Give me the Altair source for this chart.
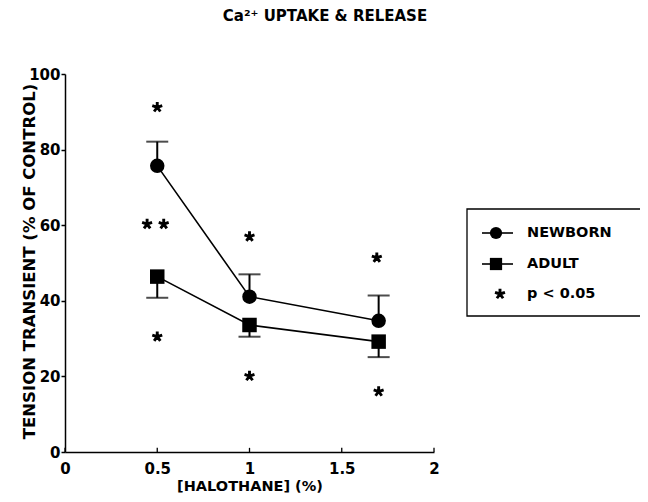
import altair as alt
import pandas as pd

# ---- data ----
halothane = [0.5, 1.0, 1.7]
newborn = [75.7, 41.1, 34.7]
newborn_upper = [82.1, 47.0, 41.4]
adult = [46.4, 33.6, 29.2]
adult_lower = [40.8, 30.5, 25.1]

ast_x = [0.5, 0.445, 0.535, 0.5, 1.0, 1.0, 1.69, 1.70]
ast_y = [91.2, 60.3, 60.3, 30.5, 57.0, 20.1, 51.4, 16.0]

x_ticks = [0, 0.5, 1, 1.5, 2]
y_ticks = [0, 20, 40, 60, 80, 100]

series_names = ["NEWBORN", "ADULT"]
legend_labels = ["NEWBORN", "ADULT", "p < 0.05"]
title_text = "Ca²⁺ UPTAKE & RELEASE"

# ---- tables ----
pts = pd.DataFrame(
    {
        "series": [series_names[0]] * 3 + [series_names[1]] * 3,
        "x": halothane + halothane,
        "y": newborn + adult,
        "err": newborn_upper + adult_lower,
    }
)
ast = pd.DataFrame({"x": ast_x, "y": ast_y})
ticks_df = pd.DataFrame({"x": x_ticks, "y0": [0] * len(x_ticks), "y1": [1.1] * len(x_ticks)})
one = pd.DataFrame({"a": [0]})

FONT = "DejaVu Sans"
ASTERISK = "M0,0L0,-1M0,0L0.95,-0.31M0,0L0.59,0.81M0,0L-0.59,0.81M0,0L-0.95,-0.31"

xs = alt.Scale(domain=[0, 2], nice=False, zero=False)
ys = alt.Scale(domain=[0, 100], nice=False)

X = alt.X(
    "x:Q",
    scale=xs,
    axis=alt.Axis(
        values=x_ticks,
        format="~g",
        title="[HALOTHANE] (%)",
        tickSize=0,
        labelPadding=9,
        labelFlush=False,
        labelFont=FONT,
        labelFontSize=15,
        labelFontWeight="bold",
        labelColor="black",
        titleFont=FONT,
        titleFontSize=14.5,
        titleFontWeight="bold",
        titleColor="black",
        titlePadding=3,
        domainColor="black",
        domainWidth=1.5,
        grid=False,
    ),
)
Y = alt.Y(
    "y:Q",
    scale=ys,
    axis=alt.Axis(
        values=y_ticks,
        title="TENSION TRANSIENT (% OF CONTROL)",
        tickSize=4,
        tickWidth=1.5,
        tickColor="black",
        labelPadding=1,
        labelFont=FONT,
        labelFontSize=15,
        labelFontWeight="bold",
        labelColor="black",
        titleFont=FONT,
        titleFontSize=16.5,
        titleFontWeight="bold",
        titleColor="black",
        titleX=-36,
        titleY=187,
        titleAngle=-90,
        titleAlign="center",
        titleBaseline="middle",
        domainColor="black",
        domainWidth=1.5,
        grid=False,
    ),
)

lines = alt.Chart(pts).mark_line(color="black", strokeWidth=1.6).encode(
    x=X, y=Y, detail="series:N"
)

bars = alt.Chart(pts).mark_rule(color="black", strokeWidth=2).encode(
    x=alt.X("x:Q", scale=xs), y=alt.Y("y:Q", scale=ys), y2="err:Q"
)

caps = alt.Chart(pts).mark_tick(
    color="black", orient="horizontal", size=22, thickness=2
).encode(x=alt.X("x:Q", scale=xs), y=alt.Y("err:Q", scale=ys))

points = alt.Chart(pts).mark_point(filled=True, color="black", opacity=1, size=210).encode(
    x=alt.X("x:Q", scale=xs),
    y=alt.Y("y:Q", scale=ys),
    shape=alt.Shape(
        "series:N",
        scale=alt.Scale(domain=series_names, range=["circle", "square"]),
        legend=None,
    ),
)

stars = alt.Chart(ast).mark_point(
    shape=ASTERISK, size=110, filled=False, color="black", strokeWidth=2.9, opacity=1
).encode(x=alt.X("x:Q", scale=xs), y=alt.Y("y:Q", scale=ys))

xticks = alt.Chart(ticks_df).mark_rule(color="black", strokeWidth=1.3).encode(
    x=alt.X("x:Q", scale=xs), y=alt.Y("y0:Q", scale=ys), y2="y1:Q"
)

# ---- title ----
title = alt.Chart(one).mark_text(
    font=FONT, fontSize=15, fontWeight="bold", color="black", align="center", baseline="alphabetic"
).encode(x=alt.value(260), y=alt.value(-53), text=alt.value(title_text))

# ---- legend box ----
box = alt.Chart(one).mark_rect(fillOpacity=0, stroke="black", strokeWidth=1.3).encode(
    x=alt.value(402), x2=alt.value(578), y=alt.value(135), y2=alt.value(242)
)

legend_rows = [159, 190, 220]
legend_layers = [box]
for i, (lab, yy) in enumerate(zip(legend_labels, legend_rows)):
    if i < 2:
        legend_layers.append(
            alt.Chart(one).mark_rule(color="black", strokeWidth=1.6).encode(
                x=alt.value(417), x2=alt.value(448), y=alt.value(yy)
            )
        )
        legend_layers.append(
            alt.Chart(one).mark_point(
                filled=True, color="black", opacity=1, size=150,
                shape=["circle", "square"][i],
            ).encode(x=alt.value(431), y=alt.value(yy))
        )
    else:
        legend_layers.append(
            alt.Chart(one).mark_point(
                shape=ASTERISK, size=110, filled=False, color="black", strokeWidth=2.9, opacity=1
            ).encode(x=alt.value(435), y=alt.value(yy))
        )
    legend_layers.append(
        alt.Chart(one).mark_text(
            font=FONT, fontSize=14.5, fontWeight="bold", color="black", align="left", baseline="middle"
        ).encode(x=alt.value(462), y=alt.value(yy), text=alt.value(lab))
    )

chart = (
    alt.layer(lines, bars, caps, points, stars, xticks, title, *legend_layers)
    .properties(
        width=369,
        height=378,
        autosize=alt.AutoSizeParams(type="none"),
        padding={"left": 57, "top": 66, "right": 206, "bottom": 42},
        background="white",
    )
    .configure_view(stroke=None)
)

chart.save("out.html", embed_options={"renderer": "svg", "actions": False})
